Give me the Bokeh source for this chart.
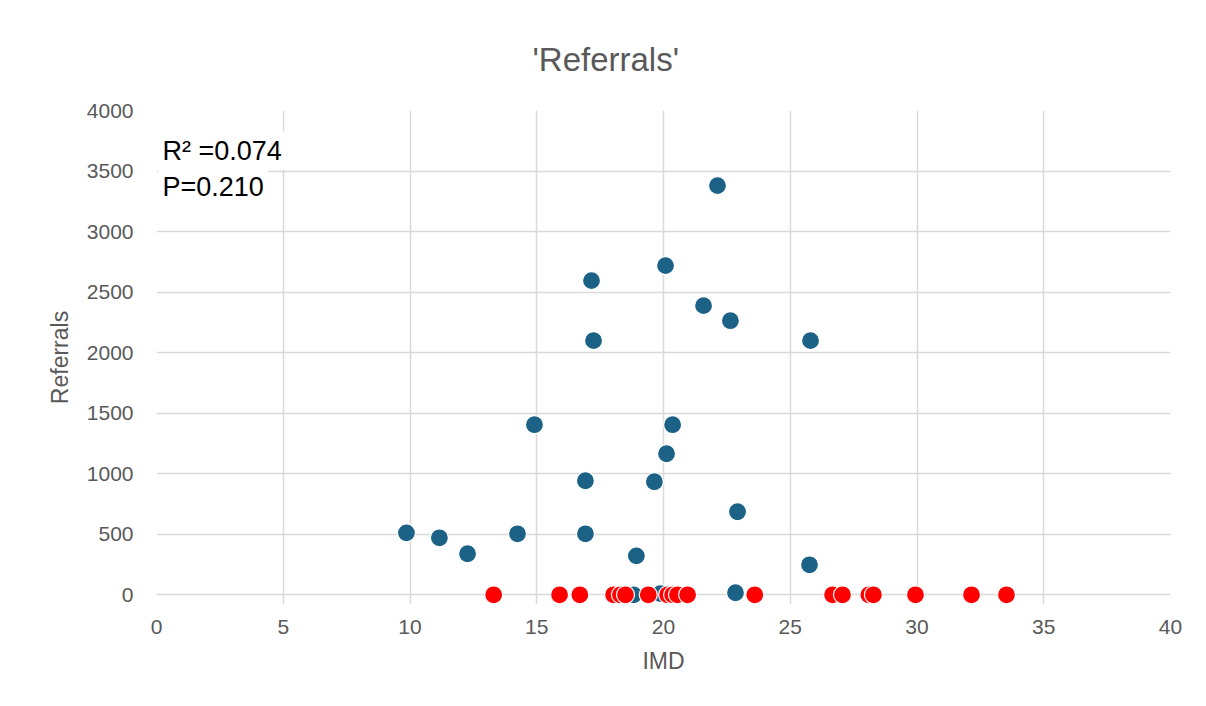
from bokeh.plotting import figure
from bokeh.models import Label, FixedTicker, Range1d
from bokeh.embed import file_html
from bokeh.resources import INLINE

blue_x = [9.86, 11.16, 12.27, 14.24, 14.91, 16.92, 16.92, 17.16, 17.24, 18.82, 18.93, 19.64,
          19.88, 20.08, 20.12, 20.36, 21.58, 22.13, 22.64, 22.84, 22.92, 25.76, 25.8]
blue_y = [512, 471, 339, 504, 1405, 504, 942, 2595, 2099, 0, 322, 934,
          10, 2719, 1165, 1405, 2388, 3380, 2264, 17, 686, 248, 2099]
red_x = [13.3, 15.9, 16.7, 18.03, 18.3, 18.5, 19.4, 20.16, 20.36, 20.55, 20.95, 23.6,
         26.67, 27.06, 28.1, 28.28, 29.94, 32.15, 33.53]
red_y = [0, 0, 0, 0, 0, 0, 0, 0, 0, 0, 0, 0, 0, 0, 0, 0, 0, 0, 0]
x_ticks = [0, 5, 10, 15, 20, 25, 30, 35, 40]
y_ticks = [0, 500, 1000, 1500, 2000, 2500, 3000, 3500, 4000]

FONT = "Liberation Sans"
GRAY = "#595959"

p = figure(width=1190, height=690, output_backend="svg", toolbar_location=None,
           x_range=Range1d(0, 40), y_range=Range1d(-80, 4000),
           min_border_left=156, min_border_right=20, min_border_top=110, min_border_bottom=86,
           title="'Referrals'")
p.outline_line_color = None
p.background_fill_color = "white"
p.border_fill_color = "white"

p.title.text_font = FONT
p.title.text_font_size = "33px"
p.title.text_font_style = "normal"
p.title.text_color = GRAY
p.title.align = "left"
p.title.offset = 376
p.title.standoff = 66

for ax in (p.xaxis[0], p.yaxis[0]):
    ax.axis_line_color = None
    ax.major_tick_line_color = None
    ax.minor_tick_line_color = None
    ax.major_label_text_font = FONT
    ax.major_label_text_font_size = "21px"
    ax.major_label_text_color = GRAY
    ax.axis_label_text_font = FONT
    ax.axis_label_text_font_size = "23px"
    ax.axis_label_text_font_style = "normal"
    ax.axis_label_text_color = GRAY

p.xaxis.ticker = FixedTicker(ticks=x_ticks)
p.yaxis.ticker = FixedTicker(ticks=y_ticks)
p.xaxis.axis_label = "IMD"
p.yaxis.axis_label = "Referrals"
p.xaxis.major_label_standoff = 9
p.yaxis.major_label_standoff = 17
p.xaxis.axis_label_standoff = 11
p.yaxis.axis_label_standoff = 11

p.xgrid.ticker = FixedTicker(ticks=x_ticks)
p.ygrid.ticker = FixedTicker(ticks=y_ticks)
p.xgrid.bounds = (0, 4000)
p.xgrid.grid_line_color = "#d9d9d9"
p.ygrid.grid_line_color = "#d9d9d9"
p.xgrid.grid_line_width = 1.5
p.ygrid.grid_line_width = 1.5

p.scatter(blue_x, blue_y, size=18, fill_color="#1b6286", line_color="white", line_width=1.2)
p.scatter(red_x, red_y, size=18, fill_color="#ff0000", line_color="white", line_width=1.2)

lab1 = Label(x=2, y=604 - 150, x_units="screen", y_units="screen", text="R\u00b2 =0.074",
             text_font=FONT, text_font_size="27px", text_color="black",
             background_fill_color="white", text_baseline="middle", padding=4)
lab2 = Label(x=2, y=604 - 186, x_units="screen", y_units="screen", text="P=0.210",
             text_font=FONT, text_font_size="27px", text_color="black",
             background_fill_color="white", text_baseline="middle", padding=4)
p.add_layout(lab1)
p.add_layout(lab2)

open("out.html", "w").write(file_html(p, INLINE))
